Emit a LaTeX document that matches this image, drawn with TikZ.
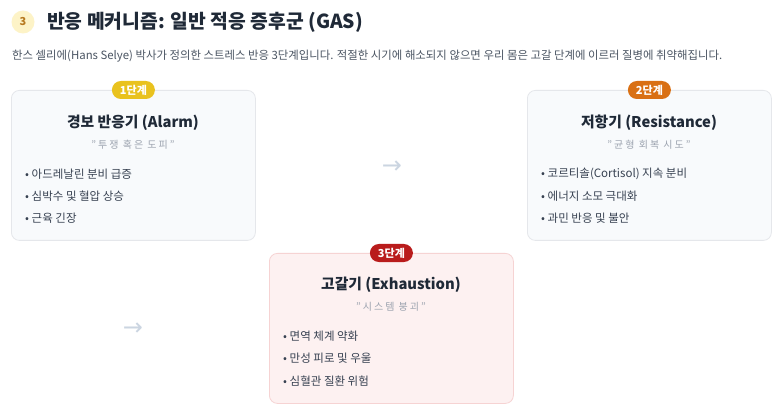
\documentclass[tikz,border=0pt]{standalone}
\usepackage{fontspec}
\setmainfont{Noto Sans CJK KR}
\newfontfamily\symfont{DejaVu Sans}
\definecolor{titlecol}{HTML}{1F2937}
\definecolor{subcol}{HTML}{4B5563}
\definecolor{quotecol}{HTML}{9CA3AF}
\definecolor{itemcol}{HTML}{374151}
\definecolor{cardfill}{HTML}{F8FAFC}
\definecolor{cardborder}{HTML}{E5E7EB}
\definecolor{pinkfill}{HTML}{FDF1F1}
\definecolor{pinkborder}{HTML}{F6D3D3}
\definecolor{yel}{HTML}{E9C21E}
\definecolor{ora}{HTML}{D97014}
\definecolor{redb}{HTML}{B91C1C}
\definecolor{circfill}{HTML}{FDF3C7}
\definecolor{circtext}{HTML}{B7791F}
\definecolor{arrowcol}{HTML}{CBD5E1}
\begin{document}
\begin{tikzpicture}[x=1pt,y=-1pt,
  card/.style={draw=cardborder, line width=0.8pt, rounded corners=8pt, fill=cardfill, minimum width=244pt, minimum height=150pt, anchor=north west, inner sep=0},
  badge/.style={rounded corners=9pt, minimum width=43pt, minimum height=18pt, inner sep=0, text=white, font=\fontsize{11}{12}\selectfont\bfseries},
  cardtitle/.style={font=\fontsize{14.8}{18}\selectfont\bfseries, text=titlecol, inner sep=0},
  quotetext/.style={font=\fontsize{10}{12}\selectfont\addfontfeatures{LetterSpace=20}, text=quotecol, inner sep=0},
  item/.style={anchor=west, font=\fontsize{11.5}{14}\selectfont, text=itemcol, inner sep=0},
  flowarrow/.style={font=\symfont\fontsize{24}{24}\selectfont, text=arrowcol, inner sep=0}
]
\useasboundingbox (0,0) rectangle (780,417);
\fill[white] (0,0) rectangle (780,417);

% heading
\node[circle, fill=circfill, minimum size=23pt, inner sep=0, text=circtext, font=\fontsize{11}{12}\selectfont\bfseries] (num) at (23,22) {3};
\node[anchor=west, inner sep=0, text=titlecol, font=\fontsize{19.3}{22}\selectfont\bfseries] (head) at (47,22) {반응 메커니즘: 일반 적응 증후군 (GAS)};
\node[anchor=west, inner sep=0, text=subcol, font=\fontsize{11.4}{13}\selectfont] (sub) at (12,56) {한스 셀리에(Hans Selye) 박사가 정의한 스트레스 반응 3단계입니다. 적절한 시기에 해소되지 않으면 우리 몸은 고갈 단계에 이르러 질병에 취약해집니다.};

% card 1
\node[card] (c1) at (11,90) {};
\node[badge, fill=yel] (b1) at (c1.north) {1단계};
\node[cardtitle] (t1) at (133,123) {경보 반응기 (Alarm)};
\node[quotetext] (q1) at (133,145) {"투쟁 혹은 도피"};
\node[item] (i11) at (25,174) {• 아드레날린 분비 급증};
\node[item] (i12) at (25,196) {• 심박수 및 혈압 상승};
\node[item] (i13) at (25,218) {• 근육 긴장};

% card 2
\node[card] (c2) at (527,90) {};
\node[badge, fill=ora] (b2) at (c2.north) {2단계};
\node[cardtitle] (t2) at (649,123) {저항기 (Resistance)};
\node[quotetext] (q2) at (649,145) {"균형 회복 시도"};
\node[item] (i21) at (541,174) {• 코르티솔(Cortisol) 지속 분비};
\node[item] (i22) at (541,196) {• 에너지 소모 극대화};
\node[item] (i23) at (541,218) {• 과민 반응 및 불안};

% card 3
\node[card, fill=pinkfill, draw=pinkborder] (c3) at (269,253) {};
\node[badge, fill=redb] (b3) at (c3.north) {3단계};
\node[cardtitle] (t3) at (391,285) {고갈기 (Exhaustion)};
\node[quotetext] (q3) at (391,307) {"시스템 붕괴"};
\node[item] (i31) at (283,336) {• 면역 체계 약화};
\node[item] (i32) at (283,358) {• 만성 피로 및 우울};
\node[item] (i33) at (283,381) {• 심혈관 질환 위험};

% arrows
\node[flowarrow] (a1) at (392,167) {→};
\node[flowarrow] (a2) at (133,329) {→};
\end{tikzpicture}
\end{document}
